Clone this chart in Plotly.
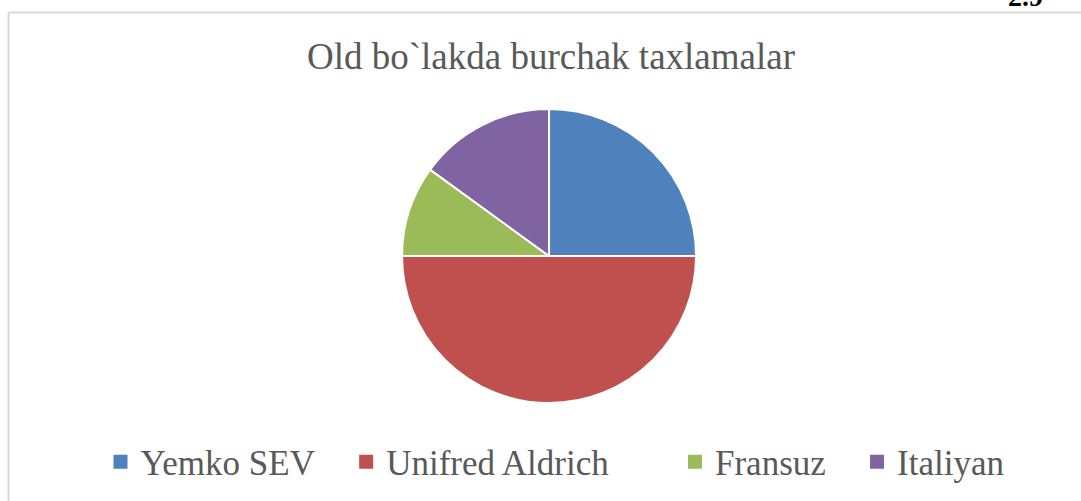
import plotly.graph_objects as go

labels = ["Yemko SEV", "Unifred Aldrich", "Fransuz", "Italiyan"]
values = [25, 50, 10, 15]
colors = ["#4F81BD", "#C0504D", "#9BBB59", "#8064A2"]
title_text = "Old bo`lakda burchak taxlamalar"
page_label = "2.9"

W, H = 1081, 501
top_m, bot_m = 109, 98
plot_h = H - top_m - bot_m

def py(p):
    return (H - bot_m - p) / plot_h

legend_pads = [3, 7, 3, 0]

fig = go.Figure(go.Pie(
    labels=labels,
    values=values,
    marker=dict(colors=colors, line=dict(color="white", width=2)),
    sort=False,
    direction="clockwise",
    rotation=0,
    textinfo="none",
    showlegend=False,
    domain=dict(x=[0.3, 0.7158], y=[0, 1]),
))

# legend entries (same labels/colours as the slices)
for lab, col, n in zip(labels, colors, legend_pads):
    fig.add_trace(go.Scatter(
        x=[None], y=[None], mode="markers", name=lab + "\u00a0" * n,
        marker=dict(symbol="square", size=14, color=col),
        hoverinfo="skip", showlegend=True,
    ))

fig.update_layout(
    width=W, height=H,
    margin=dict(l=0, r=0, t=top_m, b=bot_m, pad=0),
    paper_bgcolor="white",
    plot_bgcolor="white",
    xaxis=dict(visible=False),
    yaxis=dict(visible=False),
    title=dict(text=title_text, x=551 / W, xanchor="center", xref="paper",
               y=1 - 56 / H, yanchor="middle", yref="container",
               font=dict(family="Liberation Serif", size=37, color="#595959")),
    showlegend=True,
    legend=dict(orientation="h", x=555 / W, xanchor="center", y=py(462), yanchor="middle",
                font=dict(family="Liberation Serif", size=35, color="#595959"),
                traceorder="normal", itemsizing="trace"),
    shapes=[
        dict(type="line", xref="paper", yref="paper", x0=8.5 / W, x1=1.01, y0=py(12.5), y1=py(12.5),
             line=dict(color="#d9d9d9", width=2)),
        dict(type="line", xref="paper", yref="paper", x0=8.5 / W, x1=8.5 / W, y0=py(12.5), y1=py(520),
             line=dict(color="#d9d9d9", width=2)),
    ],
    annotations=[
        dict(text="<b>" + page_label + "</b>", xref="paper", yref="paper", x=1025 / W, y=py(14),
             xanchor="center", yanchor="bottom", showarrow=False,
             font=dict(family="Liberation Serif", size=28, color="black")),
    ],
)

fig.write_html("out.html", config={"displayModeBar": False},
               post_script="document.body.style.margin='0';document.body.style.overflow='hidden';")
